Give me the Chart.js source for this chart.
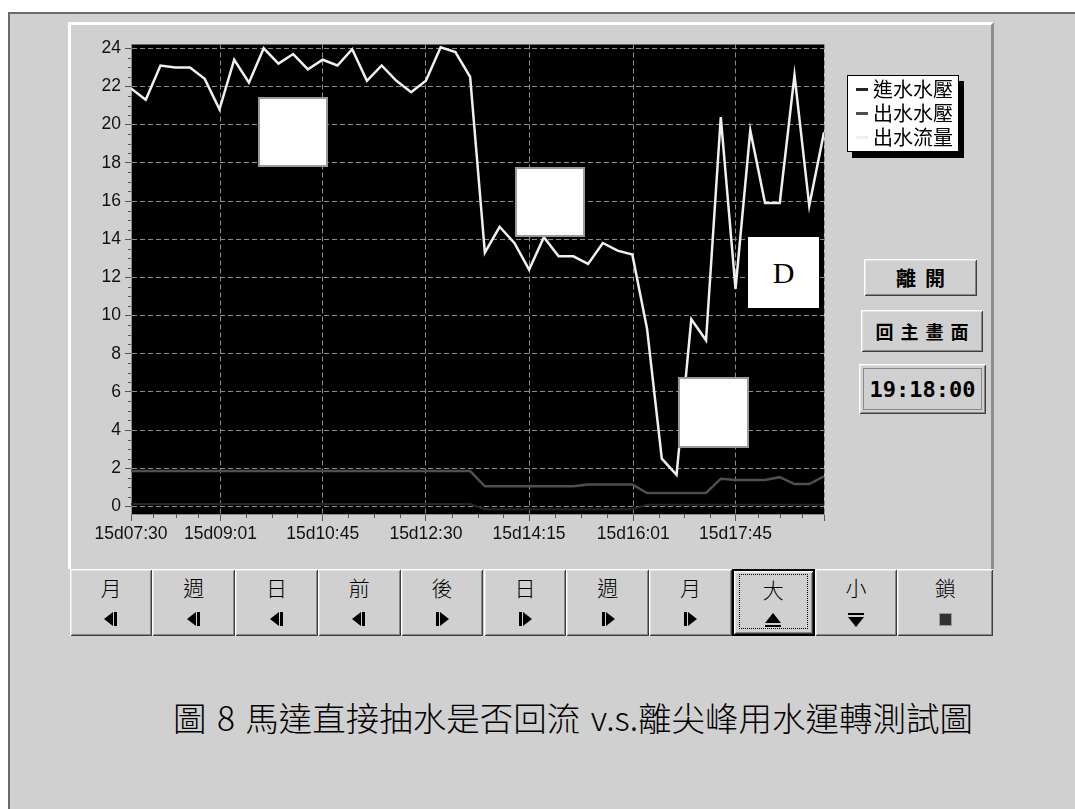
<!DOCTYPE html>
<html lang="zh-Hant">
<head>
<meta charset="utf-8">
<title>馬達直接抽水是否回流 v.s.離尖峰用水運轉測試圖</title>
<script src="https://cdn.jsdelivr.net/npm/chart.js@4.4.1/dist/chart.umd.min.js"></script>
<style>
  html, body { margin: 0; padding: 0; width: 1075px; height: 809px; overflow: hidden; background: #fff; }
  body { position: relative; font-family: "Noto Sans CJK TC", sans-serif; color: #000; }
  .abs { position: absolute; box-sizing: border-box; }
  #frame { left: 8px; top: 12px; width: 1067px; height: 797px; background: #d0d0d0;
           border-top: 2px solid #6a6a6a; border-left: 2px solid #6a6a6a; }
  #panel { left: 68px; top: 22px; width: 926px; height: 547px; background: #d0d0d0;
           border-top: 3px solid #fff; border-left: 3px solid #fff; border-right: 3px solid #8e8e8e; }
  #chartBox { left: 69px; top: 22px; width: 924px; height: 546px; }
  .mask { background: #fff; border: 2px solid #9a9a9a; }
  #maskD { border: none; font-family: "Liberation Serif", "Times New Roman", serif; font-size: 30px;
           display: flex; align-items: center; justify-content: center; }

  /* legend */
  #legend { left: 847px; top: 75px; width: 112px; height: 77px; background: #fff;
            border: 1px solid #000; box-shadow: 5px 6px 0 #000; padding: 1px 0 0 8px; }
  .lg-row { height: 24px; display: flex; align-items: center; font-size: 20px; line-height: 24px; white-space: nowrap; }
  .lg-dash { width: 12px; height: 3px; margin-right: 5px; flex: none; }

  /* win95 style buttons */
  .btn { background: #d0d0d0;
         box-shadow: inset 1px 1px 0 #fff, inset -1px -1px 0 #404040, inset 2px 2px 0 #e4e4e4, inset -2px -2px 0 #868686; }
  .side { display: flex; align-items: center; justify-content: center; font-weight: bold; }
  #btnExit { left: 864px; top: 259px; width: 113px; height: 37px; font-size: 20px; letter-spacing: 9px; padding-left: 9px; }
  #btnHome { left: 861px; top: 310px; width: 122px; height: 42px; font-size: 18px; letter-spacing: 7px; padding-left: 7px; }
  #clock { left: 859px; top: 364px; width: 127px; height: 50px; font-family: "DejaVu Sans Mono", monospace;
           font-size: 22px; }
  #clock::after { content: ""; position: absolute; left: 4px; top: 4px; right: 4px; bottom: 4px; border: 1px solid #8a8a8a; }

  .nav { top: 569px; height: 67px; }
  .nav .t { position: absolute; left: 0; right: 0; top: 5px; text-align: center; font-size: 21px; line-height: 26px; font-weight: 300; }
  .nav .i { position: absolute; left: 0; right: 0; top: 42px; height: 16px; display: flex; justify-content: center; align-items: center; }
  .nav.sel { border: 2px solid #000; }
  .nav.sel::after { content: ""; position: absolute; left: 5px; top: 3px; right: 5px; bottom: 5px; border: 1px dotted #000; }
  .tl { width: 0; height: 0; border-top: 7px solid transparent; border-bottom: 7px solid transparent; border-right: 9px solid #000; }
  .tr { width: 0; height: 0; border-top: 7px solid transparent; border-bottom: 7px solid transparent; border-left: 9px solid #000; }
  .vb { width: 3px; height: 14px; background: #000; margin: 0 1px; }
  .col { display: flex; flex-direction: column; align-items: center; }
  .tu { width: 0; height: 0; border-left: 8px solid transparent; border-right: 8px solid transparent; border-bottom: 10px solid #000; }
  .td { width: 0; height: 0; border-left: 8px solid transparent; border-right: 8px solid transparent; border-top: 10px solid #000; }
  .hb { width: 16px; height: 2px; background: #000; margin: 2px 0; }
  .sq { width: 13px; height: 13px; background: #333; border: 1px solid #999; box-sizing: border-box; }

  #caption { left: 173px; top: 697px; font-size: 33.5px; line-height: 40px; font-weight: 300;
             white-space: nowrap; word-spacing: 3px; }
</style>
</head>
<body>
<div id="frame" class="abs"></div>
<div id="panel" class="abs"></div>
<div id="chartBox" class="abs"><canvas id="trend"></canvas></div>

<div class="abs mask" style="left:258px;top:97px;width:70px;height:70px;"></div>
<div class="abs mask" style="left:515px;top:167px;width:70px;height:70px;"></div>
<div class="abs mask" id="maskD" style="left:748px;top:237px;width:71px;height:71px;">D</div>
<div class="abs mask" style="left:678px;top:377px;width:71px;height:71px;"></div>

<div id="legend" class="abs"></div>

<div id="btnExit" class="abs btn side">離開</div>
<div id="btnHome" class="abs btn side">回主畫面</div>
<div id="clock" class="abs btn side">19:18:00</div>

<div id="navRow"></div>

<div id="caption" class="abs">圖 8 馬達直接抽水是否回流 v.s.離尖峰用水運轉測試圖</div>

<script>
// --- 資料 (每 15 分鐘取樣) ---
const sampleTimes = ['07:30','07:45','08:00','08:15','08:30','08:45','09:00','09:15','09:30','09:45',
  '10:00','10:15','10:30','10:45','11:00','11:15','11:30','11:45','12:00','12:15',
  '12:30','12:45','13:00','13:15','13:30','13:45','14:00','14:15','14:30','14:45',
  '15:00','15:15','15:30','15:45','16:00','16:15','16:30','16:45','17:00','17:15',
  '17:30','17:45','18:00','18:15','18:30','18:45','19:00','19:15'];

const inletPressure = [0.12,0.12,0.12,0.12,0.12,0.12,0.12,0.12,0.12,0.12,
  0.12,0.12,0.12,0.12,0.12,0.12,0.12,0.12,0.12,0.12,
  0.12,0.12,0.12,0.12,-0.15,-0.15,-0.15,-0.15,-0.15,-0.15,
  -0.15,-0.15,-0.15,-0.15,-0.15,0.08,0.08,0.08,0.08,0.08,
  0.08,0.08,0.08,0.08,0.08,0.08,0.08,0.08];

const outletPressure = [1.85,1.85,1.85,1.85,1.85,1.85,1.85,1.85,1.85,1.85,
  1.85,1.85,1.85,1.85,1.85,1.85,1.85,1.85,1.85,1.85,
  1.85,1.85,1.85,1.85,1.05,1.05,1.05,1.05,1.05,1.05,
  1.05,1.15,1.15,1.15,1.15,0.7,0.7,0.7,0.7,0.7,
  1.45,1.38,1.38,1.38,1.53,1.17,1.17,1.57];

const outletFlow = [21.9,21.3,23.1,23.0,23.0,22.4,20.8,23.4,22.2,24.0,
  23.2,23.7,22.9,23.4,23.1,23.95,22.3,23.1,22.3,21.7,
  22.3,24.05,23.8,22.5,13.3,14.65,13.8,12.4,14.1,13.1,
  13.1,12.7,13.8,13.4,13.2,9.3,2.5,1.65,9.8,8.7,
  20.4,11.4,19.7,15.9,15.9,22.6,15.75,19.6];

const seriesLabels = ['進水水壓', '出水水壓', '出水流量'];
const xTickTimes = ['07:30','09:01','10:45','12:30','14:15','16:01','17:45','19:15'];
const xTickLabels = ['15d07:30','15d09:01','15d10:45','15d12:30','15d14:15','15d16:01','15d17:45',''];
const yTickValues = [0,2,4,6,8,10,12,14,16,18,20,22,24];

const navTop = ['月','週','日','前','後','日','週','月','大','小','鎖'];
const navIcon = ['left','left','left','left','right','right','right','right','up','down','lock'];

function toMinutes(t) {
  const [h, m] = t.split(':').map(Number);
  return h * 60 + m;
}
function toPoints(values) {
  return values.map((v, i) => ({ x: toMinutes(sampleTimes[i]), y: v }));
}

// 圖區黑底
const plotBackground = {
  id: 'plotBackground',
  beforeDraw(c) {
    const a = c.chartArea;
    c.ctx.save();
    c.ctx.fillStyle = '#000';
    c.ctx.fillRect(a.left, a.top, a.right - a.left, a.bottom - a.top);
    c.ctx.restore();
  }
};

// 次刻度
const minorTicks = {
  id: 'minorTicks',
  afterDraw(c) {
    const { ctx, chartArea: a, scales: { x, y } } = c;
    ctx.save();
    ctx.strokeStyle = '#555';
    ctx.lineWidth = 1;
    ctx.beginPath();
    for (let v = 0.5; v < 24; v += 0.5) {
      if (v % 2 === 0) continue;
      const py = Math.round(y.getPixelForValue(v)) + 0.5;
      ctx.moveTo(a.left - 3, py);
      ctx.lineTo(a.left, py);
    }
    const majors = xTickTimes.map(toMinutes);
    for (let i = 0; i < majors.length - 1; i++) {
      for (let k = 1; k < 4; k++) {
        const px = Math.round(x.getPixelForValue(majors[i] + (majors[i + 1] - majors[i]) * k / 4)) + 0.5;
        ctx.moveTo(px, a.bottom);
        ctx.lineTo(px, a.bottom + 4);
      }
    }
    ctx.stroke();
    ctx.restore();
  }
};

const tickFont = { family: '"Liberation Sans", Arial, sans-serif', size: 17.5 };
const lineColors = ['#262626', '#4f4f4f', '#f0f0f0'];

const chart = new Chart(document.getElementById('trend'), {
  type: 'line',
  data: {
    datasets: [
      { label: seriesLabels[0], data: toPoints(inletPressure), borderColor: lineColors[0], borderWidth: 2 },
      { label: seriesLabels[1], data: toPoints(outletPressure), borderColor: lineColors[1], borderWidth: 2.5 },
      { label: seriesLabels[2], data: toPoints(outletFlow), borderColor: lineColors[2], borderWidth: 2.5 }
    ]
  },
  options: {
    responsive: true,
    maintainAspectRatio: false,
    animation: false,
    elements: { point: { radius: 0 }, line: { tension: 0 } },
    layout: { padding: { left: 22, top: 22.5, right: 169, bottom: 14 } },
    plugins: { legend: { display: false }, tooltip: { enabled: false } },
    scales: {
      x: {
        type: 'linear',
        min: toMinutes('07:30'),
        max: toMinutes('19:15'),
        afterBuildTicks: s => { s.ticks = xTickTimes.map(t => ({ value: toMinutes(t) })); },
        afterFit: s => { s.height = 40; },
        ticks: { autoSkip: false, maxRotation: 0, padding: 3, color: '#111', font: tickFont,
                 callback: (v, i) => xTickLabels[i] },
        grid: { color: '#8c8c8c', lineWidth: 1, tickLength: 7, tickColor: '#555' },
        border: { display: true, color: '#8c8c8c', dash: [5, 3] }
      },
      y: {
        min: -0.4,
        max: 24.2,
        afterBuildTicks: s => { s.ticks = yTickValues.map(v => ({ value: v })); },
        afterFit: s => { s.width = 40; },
        ticks: { padding: 4, color: '#111', font: tickFont, callback: v => String(v) },
        grid: { color: '#8c8c8c', lineWidth: 1, tickLength: 6, tickColor: '#555' },
        border: { display: true, color: '#8c8c8c', dash: [5, 3] }
      }
    }
  },
  plugins: [plotBackground, minorTicks]
});

// 圖例
const legend = document.getElementById('legend');
chart.data.datasets.forEach(ds => {
  const row = document.createElement('div');
  row.className = 'lg-row';
  row.innerHTML = `<span class="lg-dash" style="background:${ds.borderColor}"></span><span>${ds.label}</span>`;
  legend.appendChild(row);
});

// 下方按鈕列
const iconHtml = {
  left: '<span class="tl"></span><span class="vb"></span>',
  right: '<span class="vb"></span><span class="tr"></span>',
  up: '<span class="col"><span class="tu"></span><span class="hb"></span></span>',
  down: '<span class="col"><span class="hb"></span><span class="td"></span></span>',
  lock: '<span class="sq"></span>'
};
const navRow = document.getElementById('navRow');
const btnW = 82.78;
navTop.forEach((label, i) => {
  const b = document.createElement('div');
  b.className = 'abs btn nav' + (label === '大' ? ' sel' : '');
  const left = 69.6 + i * btnW;
  const width = i === navTop.length - 1 ? 993 - left : btnW;
  b.style.left = left + 'px';
  b.style.width = width + 'px';
  b.innerHTML = `<div class="t">${label}</div><div class="i">${iconHtml[navIcon[i]]}</div>`;
  navRow.appendChild(b);
});
</script>
</body>
</html>
